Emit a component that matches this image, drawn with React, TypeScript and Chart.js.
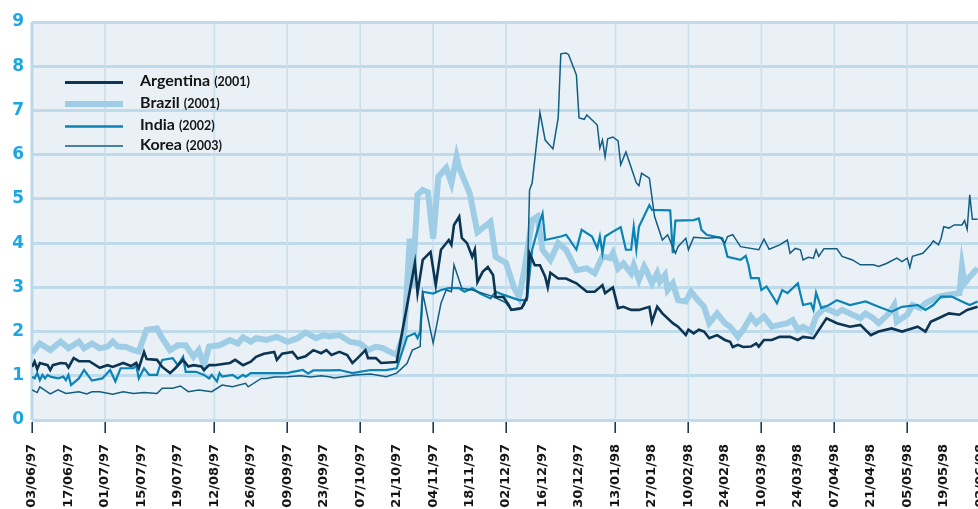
import { useEffect, useRef } from "react";
import { Chart, registerables } from "chart.js";

Chart.register(...registerables);

// x axis: days since 03/06/97, one label every 14 days
const tickLabels = [
  "03/06/97", "17/06/97", "01/07/97", "15/07/97", "19/07/97", "12/08/97", "26/08/97",
  "09/09/97", "23/09/97", "07/10/97", "21/10/97", "04/11/97", "18/11/97", "02/12/97",
  "16/12/97", "30/12/97", "13/01/98", "27/01/98", "10/02/98", "24/02/98", "10/03/98",
  "24/03/98", "07/04/98", "21/04/98", "05/05/98", "19/05/98", "02/06/98",
];
const tickStepDays = 14;
// labels that open a new month get a vertical grid line and a tick mark
const gridTickIndexes = [0, 2, 5, 7, 9, 11, 13, 16, 18, 20, 22, 24, 26];

const argentinaDays = [0, 1, 2, 3, 6, 7, 8, 11, 13, 14, 16, 18, 22, 26, 29, 31, 35, 38, 40, 41, 43, 44, 48, 50, 53, 55, 58, 60, 62, 65, 66, 68, 70, 76, 78, 81, 84, 86, 89, 93, 94, 96, 100, 102, 105, 108, 111, 113, 115, 118, 121, 123, 125, 128, 129, 132, 134, 140, 147, 148, 150, 153, 155, 157, 160, 161, 162, 164, 165, 167, 169, 170, 171, 173, 175, 177, 178, 181, 183, 184, 188, 190, 191, 193, 195, 197, 198, 199, 202, 205, 209, 213, 216, 219, 220, 223, 225, 227, 230, 233, 237, 238, 240, 242, 246, 248, 251, 252, 254, 256, 258, 260, 263, 266, 268, 269, 271, 273, 276, 278, 279, 281, 284, 287, 291, 294, 296, 300, 305, 309, 314, 318, 322, 325, 330, 334, 340, 343, 345, 348, 352, 356, 359, 363];
const argentinaValues = [1.2, 1.32, 1.15, 1.29, 1.24, 1.13, 1.24, 1.29, 1.28, 1.19, 1.4, 1.33, 1.33, 1.18, 1.24, 1.2, 1.29, 1.22, 1.29, 1.17, 1.54, 1.38, 1.36, 1.2, 1.06, 1.17, 1.36, 1.21, 1.24, 1.21, 1.13, 1.24, 1.24, 1.29, 1.36, 1.24, 1.32, 1.43, 1.5, 1.54, 1.36, 1.5, 1.54, 1.39, 1.44, 1.58, 1.51, 1.58, 1.47, 1.54, 1.47, 1.29, 1.4, 1.58, 1.4, 1.4, 1.29, 1.31, 3.55, 2.87, 3.62, 3.8, 3.05, 3.85, 4.07, 3.96, 4.41, 4.6, 4.12, 4.0, 3.69, 3.85, 3.12, 3.35, 3.46, 3.28, 2.78, 2.78, 2.6, 2.49, 2.53, 2.78, 3.77, 3.5, 3.5, 3.24, 3.0, 3.33, 3.2, 3.2, 3.09, 2.9, 2.9, 3.05, 2.87, 3.0, 2.53, 2.56, 2.49, 2.49, 2.56, 2.22, 2.56, 2.41, 2.19, 2.11, 1.92, 2.04, 1.96, 2.04, 2.0, 1.85, 1.92, 1.81, 1.77, 1.65, 1.7, 1.65, 1.66, 1.73, 1.66, 1.81, 1.81, 1.88, 1.88, 1.81, 1.88, 1.85, 2.3, 2.19, 2.11, 2.15, 1.92, 2.0, 2.07, 2.0, 2.11, 2.0, 2.22, 2.3, 2.41, 2.38, 2.49, 2.56];

const brazilDays = [0, 3, 7, 11, 14, 18, 20, 23, 26, 29, 31, 33, 36, 39, 41, 44, 48, 50, 53, 56, 59, 62, 64, 66, 68, 72, 76, 79, 81, 84, 86, 90, 94, 98, 102, 105, 109, 112, 114, 118, 122, 126, 129, 132, 135, 137, 140, 143, 145, 146, 148, 150, 152, 154, 156, 159, 161, 163, 164, 168, 171, 176, 178, 182, 185, 187, 189, 192, 194, 196, 199, 202, 205, 209, 213, 216, 219, 222, 223, 225, 227, 230, 231, 233, 235, 236, 238, 240, 241, 243, 244, 246, 248, 251, 253, 255, 258, 260, 263, 266, 268, 271, 273, 276, 278, 281, 284, 287, 290, 292, 294, 296, 299, 301, 304, 306, 309, 311, 315, 318, 320, 323, 325, 329, 331, 332, 336, 338, 341, 343, 348, 356, 357, 358, 360, 363];
const brazilValues = [1.51, 1.73, 1.58, 1.77, 1.62, 1.77, 1.62, 1.73, 1.62, 1.66, 1.77, 1.66, 1.65, 1.58, 1.55, 2.04, 2.07, 1.85, 1.58, 1.69, 1.69, 1.43, 1.58, 1.24, 1.66, 1.69, 1.81, 1.73, 1.87, 1.77, 1.85, 1.81, 1.88, 1.77, 1.85, 1.98, 1.85, 1.92, 1.89, 1.92, 1.77, 1.73, 1.58, 1.66, 1.62, 1.55, 1.47, 2.0, 4.1, 3.0, 5.09, 5.2, 5.15, 4.1, 5.5, 5.7, 5.36, 5.95, 5.7, 5.13, 4.25, 4.48, 3.69, 3.55, 3.0, 2.78, 3.39, 4.52, 4.6, 3.85, 3.62, 4.0, 3.85, 3.39, 3.43, 3.32, 3.7, 3.66, 3.77, 3.43, 3.54, 3.32, 3.5, 3.17, 3.47, 3.36, 3.09, 3.32, 3.13, 3.28, 2.94, 3.09, 2.71, 2.68, 2.9, 2.75, 2.56, 2.19, 2.41, 2.19, 2.11, 1.88, 2.04, 2.34, 2.19, 2.34, 2.11, 2.15, 2.19, 2.26, 2.04, 2.11, 2.0, 2.34, 2.53, 2.49, 2.41, 2.49, 2.38, 2.3, 2.41, 2.3, 2.19, 2.41, 2.6, 2.22, 2.38, 2.6, 2.53, 2.64, 2.79, 2.87, 3.47, 3.09, 3.24, 3.43];

const indiaDays = [0, 1, 2, 3, 4, 5, 6, 7, 10, 12, 13, 14, 15, 18, 20, 23, 27, 30, 32, 34, 39, 40, 41, 43, 45, 48, 49, 50, 54, 56, 58, 59, 63, 66, 68, 69, 71, 72, 73, 77, 79, 81, 82, 84, 98, 100, 104, 106, 108, 114, 118, 123, 130, 136, 140, 144, 147, 148, 149, 150, 154, 157, 160, 164, 166, 169, 172, 176, 178, 181, 183, 187, 190, 192, 195, 196, 197, 200, 203, 205, 206, 209, 211, 215, 217, 218, 219, 220, 223, 226, 228, 230, 231, 232, 233, 237, 238, 245, 246, 247, 254, 256, 257, 259, 265, 266, 267, 272, 274, 275, 276, 279, 280, 282, 286, 288, 290, 294, 296, 299, 300, 301, 303, 306, 309, 314, 320, 325, 330, 334, 340, 343, 346, 349, 353, 357, 360, 363];
const indiaValues = [0.98, 0.94, 1.06, 0.9, 1.02, 0.94, 1.02, 0.98, 0.94, 0.98, 0.9, 1.02, 0.79, 0.94, 1.13, 0.89, 0.94, 1.13, 0.87, 1.17, 1.17, 1.24, 0.94, 1.17, 1.02, 1.02, 1.21, 1.36, 1.4, 1.24, 1.43, 1.09, 1.09, 1.02, 0.94, 1.02, 0.87, 1.06, 0.98, 1.02, 0.94, 1.02, 0.98, 1.06, 1.06, 1.09, 1.13, 1.05, 1.12, 1.12, 1.13, 1.06, 1.13, 1.13, 1.17, 1.88, 1.96, 1.85, 2.0, 2.9, 2.86, 2.94, 2.98, 2.98, 2.9, 2.98, 2.86, 2.75, 2.9, 2.83, 2.79, 2.71, 2.71, 3.85, 4.49, 4.67, 4.07, 4.11, 4.15, 4.19, 4.11, 3.85, 4.3, 4.15, 3.88, 4.15, 3.77, 4.15, 4.26, 4.36, 3.85, 3.85, 4.37, 3.85, 4.37, 4.86, 4.75, 4.74, 3.77, 4.51, 4.52, 4.56, 4.3, 4.19, 4.11, 3.92, 3.69, 3.62, 3.71, 3.51, 3.21, 3.21, 2.94, 3.02, 2.64, 2.94, 2.87, 3.09, 2.6, 2.64, 2.49, 2.88, 2.53, 2.6, 2.71, 2.6, 2.68, 2.56, 2.45, 2.56, 2.6, 2.49, 2.6, 2.79, 2.79, 2.68, 2.6, 2.68];

const koreaDays = [0, 2, 3, 7, 10, 13, 18, 21, 23, 26, 31, 35, 39, 43, 48, 50, 54, 57, 60, 64, 69, 73, 77, 82, 83, 88, 90, 93, 98, 103, 107, 111, 114, 116, 124, 130, 136, 140, 144, 146, 149, 150, 154, 157, 159, 161, 162, 165, 169, 175, 177, 181, 182, 184, 187, 189, 190, 191, 192, 195, 197, 200, 202, 203, 205, 206, 209, 210, 212, 213, 217, 218, 219, 220, 221, 223, 225, 226, 228, 232, 233, 234, 237, 239, 242, 244, 247, 248, 251, 252, 254, 259, 264, 266, 267, 269, 272, 279, 281, 283, 287, 290, 291, 293, 295, 296, 298, 300, 301, 302, 304, 309, 311, 315, 318, 323, 325, 328, 332, 334, 336, 337, 338, 342, 345, 346, 348, 349, 350, 352, 354, 357, 358, 359, 360, 361, 363];
const koreaValues = [0.68, 0.62, 0.75, 0.59, 0.68, 0.6, 0.64, 0.59, 0.64, 0.64, 0.58, 0.64, 0.6, 0.62, 0.6, 0.72, 0.72, 0.77, 0.64, 0.68, 0.64, 0.79, 0.75, 0.83, 0.75, 0.94, 0.94, 0.97, 0.98, 1.0, 0.97, 1.0, 0.98, 0.95, 1.02, 1.04, 0.98, 1.06, 1.28, 1.58, 1.66, 2.87, 1.74, 2.64, 2.94, 2.9, 3.51, 2.98, 2.94, 2.83, 2.79, 2.68, 2.64, 2.49, 2.5, 2.6, 2.79, 5.2, 5.36, 6.95, 6.33, 6.13, 6.83, 8.28, 8.3, 8.26, 7.8, 6.83, 6.8, 6.9, 6.67, 6.15, 6.33, 5.95, 6.36, 6.4, 6.31, 5.77, 6.06, 5.36, 5.3, 5.58, 5.47, 4.6, 4.07, 4.19, 3.77, 3.92, 4.11, 3.85, 4.13, 4.11, 4.13, 4.0, 4.15, 4.19, 3.92, 3.85, 4.09, 3.86, 3.96, 4.07, 3.77, 3.88, 3.85, 3.62, 3.68, 3.66, 3.85, 3.7, 3.87, 3.87, 3.7, 3.62, 3.51, 3.51, 3.47, 3.54, 3.66, 3.58, 3.66, 3.45, 3.7, 3.77, 3.96, 4.05, 3.96, 4.11, 4.37, 4.34, 4.41, 4.41, 4.51, 4.31, 5.09, 4.54, 4.54];

const yMin = 0;
const yMax = 9;

type Series = {
  name: string;
  year: string;
  days: number[];
  values: number[];
  color: string;
  width: number;
  legendWidth: number;
  order: number;
};

const seriesList: Series[] = [
  { name: "Argentina", year: "(2001)", days: argentinaDays, values: argentinaValues, color: "#0b3552", width: 2.6, legendWidth: 3, order: 0 },
  { name: "Brazil", year: "(2001)", days: brazilDays, values: brazilValues, color: "#9ecde5", width: 6, legendWidth: 6, order: 3 },
  { name: "India", year: "(2002)", days: indiaDays, values: indiaValues, color: "#0a84b6", width: 2.2, legendWidth: 2.5, order: 2 },
  { name: "Korea", year: "(2003)", days: koreaDays, values: koreaValues, color: "#125d82", width: 1.5, legendWidth: 1.6, order: 1 },
];

const legendLineY = [82.5, 104, 126.5, 146];

const plotBackground = {
  id: "plotBackground",
  beforeDraw(chart: any) {
    const { ctx, chartArea } = chart;
    ctx.save();
    ctx.fillStyle = "#e9f1f6";
    ctx.fillRect(chartArea.left, chartArea.top, chartArea.right - chartArea.left, chartArea.bottom - chartArea.top);
    ctx.restore();
  },
};

const monthGrid = {
  id: "monthGrid",
  beforeDatasetsDraw(chart: any) {
    const { ctx, chartArea, scales } = chart;
    ctx.save();
    gridTickIndexes.forEach((idx) => {
      const x = scales.x.getPixelForValue(idx * tickStepDays);
      ctx.beginPath();
      ctx.strokeStyle = idx === 0 ? "#bcd9ea" : "#c8dfec";
      ctx.lineWidth = idx === 0 ? 3 : 1.6;
      ctx.moveTo(x, chartArea.top);
      ctx.lineTo(x, chartArea.bottom);
      ctx.stroke();
    });
    ctx.restore();
  },
  afterDraw(chart: any) {
    const { ctx, chartArea, scales } = chart;
    ctx.save();
    ctx.strokeStyle = "#1d3a52";
    ctx.lineWidth = 1.6;
    gridTickIndexes.forEach((idx) => {
      const x = Math.round(scales.x.getPixelForValue(idx * tickStepDays)) + 0.2;
      ctx.beginPath();
      ctx.moveTo(x, chartArea.bottom + 2);
      ctx.lineTo(x, chartArea.bottom + 13);
      ctx.stroke();
    });
    ctx.restore();
  },
};

const inlineLegend = {
  id: "inlineLegend",
  afterDatasetsDraw(chart: any) {
    const { ctx } = chart;
    ctx.save();
    seriesList.forEach((s, i) => {
      const y = legendLineY[i];
      ctx.beginPath();
      ctx.strokeStyle = s.color;
      ctx.lineWidth = s.legendWidth;
      ctx.moveTo(65, y);
      ctx.lineTo(123, y);
      ctx.stroke();
      ctx.fillStyle = "#151515";
      ctx.textBaseline = "alphabetic";
      ctx.textAlign = "left";
      ctx.font = "bold 16px Lato";
      ctx.fillText(s.name, 140, y + 3.5);
      const w = ctx.measureText(s.name).width;
      ctx.font = "bold 12.5px Lato";
      ctx.fillText(s.year, 140 + w + 4, y + 3.5);
    });
    ctx.restore();
  },
};

export default function App() {
  const canvasRef = useRef<HTMLCanvasElement | null>(null);

  useEffect(() => {
    if (!canvasRef.current) return;
    const chart = new Chart(canvasRef.current, {
      type: "line",
      data: {
        datasets: seriesList.map((s) => ({
          label: s.name,
          data: s.days.map((d, i) => ({ x: d, y: s.values[i] })),
          borderColor: s.color,
          backgroundColor: s.color,
          borderWidth: s.width,
          pointRadius: 0,
          tension: 0,
          fill: false,
          order: s.order,
        })),
      },
      options: {
        responsive: false,
        animation: false,
        layout: { padding: { top: 22, right: 12, left: 0, bottom: 0 } },
        plugins: { legend: { display: false }, tooltip: { enabled: false } },
        scales: {
          x: {
            type: "linear",
            min: 0,
            max: 367,
            afterBuildTicks: (scale: any) => {
              scale.ticks = tickLabels.map((_, i) => ({ value: i * tickStepDays }));
            },
            afterFit: (scale: any) => {
              scale.height = 89;
              scale.paddingLeft = 0;
              scale.paddingRight = 0;
            },
            grid: { display: false, drawTicks: false },
            border: { display: false },
            ticks: {
              autoSkip: false,
              minRotation: 90,
              maxRotation: 90,
              padding: 24,
              color: "#151515",
              font: { family: "DejaVu Sans", weight: "bold", size: 13 },
              callback: (v: any) => tickLabels[Math.round(Number(v) / tickStepDays)] ?? "",
            },
          },
          y: {
            min: yMin,
            max: yMax,
            afterFit: (scale: any) => {
              scale.width = 32;
            },
            grid: { color: "#bfdbeb", lineWidth: 3, drawTicks: false },
            border: { display: false },
            ticks: {
              stepSize: 1,
              padding: 8,
              color: "#1ba6e4",
              font: { family: "DejaVu Sans", weight: "bold", size: 17 },
            },
          },
        },
      },
      plugins: [plotBackground, monthGrid, inlineLegend],
    } as any);
    return () => chart.destroy();
  }, []);

  return (
    <div style={{ position: "fixed", left: 0, top: 0, width: "978px", height: "509px", overflow: "hidden", background: "#ffffff" }}>
      <div style={{ position: "absolute", left: 0, top: 0, width: "1000px", height: "509px" }}>
        <canvas ref={canvasRef} width={1000} height={509} style={{ display: "block", width: "1000px", height: "509px" }} />
      </div>
    </div>
  );
}
